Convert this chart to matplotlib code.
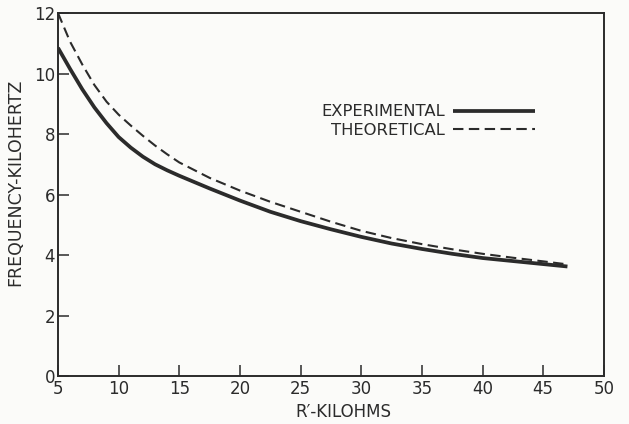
import matplotlib
matplotlib.use("Agg")
import matplotlib.pyplot as plt

# Data
r_kohm = [5, 6, 7, 8, 9, 10, 11, 12, 13, 14, 15, 17.5, 20, 22.5, 25, 27.5, 30,
          32.5, 35, 37.5, 40, 42.5, 45, 47]
experimental = [10.85, 10.15, 9.48, 8.88, 8.36, 7.9, 7.55, 7.25, 7.0, 6.8, 6.62, 6.2, 5.8,
                5.43, 5.12, 4.85, 4.6, 4.38, 4.2, 4.04, 3.9, 3.8, 3.7, 3.62]
theoretical = [12.0, 11.05, 10.3, 9.62, 9.07, 8.64, 8.28, 7.94, 7.62, 7.33, 7.06, 6.55, 6.13,
               5.76, 5.43, 5.1, 4.8, 4.56, 4.36, 4.19, 4.04, 3.91, 3.79, 3.69]

x_ticks = [5, 10, 15, 20, 25, 30, 35, 40, 45, 50]
y_ticks = [0, 2, 4, 6, 8, 10, 12]

ink = "#2b2b2b"
bg = "#fbfbf9"
plt.rcParams['font.family'] = ['DejaVu Sans']

fig = plt.figure(figsize=(6.29, 4.24), dpi=100)
fig.patch.set_facecolor(bg)
ax = fig.add_axes([0.0922, 0.1132, 0.8678, 0.8561])
ax.set_facecolor(bg)

l1, = ax.plot(r_kohm, experimental, color=ink, lw=2.7, solid_capstyle='butt',
              solid_joinstyle='round', label="EXPERIMENTAL")
l2, = ax.plot(r_kohm, theoretical, color=ink, lw=1.5, dashes=(5, 2.6),
              label="THEORETICAL")

ax.set_xlim(5, 50)
ax.set_ylim(0, 12)
ax.set_xticks(x_ticks)
ax.set_yticks(y_ticks)
ax.tick_params(direction='in', length=8, width=1.1, colors=ink, labelsize=12,
               top=False, right=False)
ax.tick_params(axis='x', pad=3)
ax.tick_params(axis='y', pad=2)
for s in ax.spines.values():
    s.set_color(ink)
    s.set_linewidth(1.4)

ax.set_xlabel("R\u2032-KILOHMS", fontsize=12, color=ink)
ax.xaxis.set_label_coords(0.522, -0.075)
ax.set_ylabel("FREQUENCY-KILOHERTZ", fontsize=12.5, color=ink)
ax.yaxis.set_label_coords(-0.062, 0.534)

leg = ax.legend(handles=[l1, l2], markerfirst=False, frameon=False, fontsize=11.8,
                handlelength=5.0, handletextpad=0.5, labelspacing=0.2,
                borderpad=0, borderaxespad=0,
                loc='upper right', bbox_to_anchor=(0.874, 0.748))
for t in leg.get_texts():
    t.set_color(ink)

fig.savefig("out.png", dpi=100, facecolor=fig.get_facecolor())
